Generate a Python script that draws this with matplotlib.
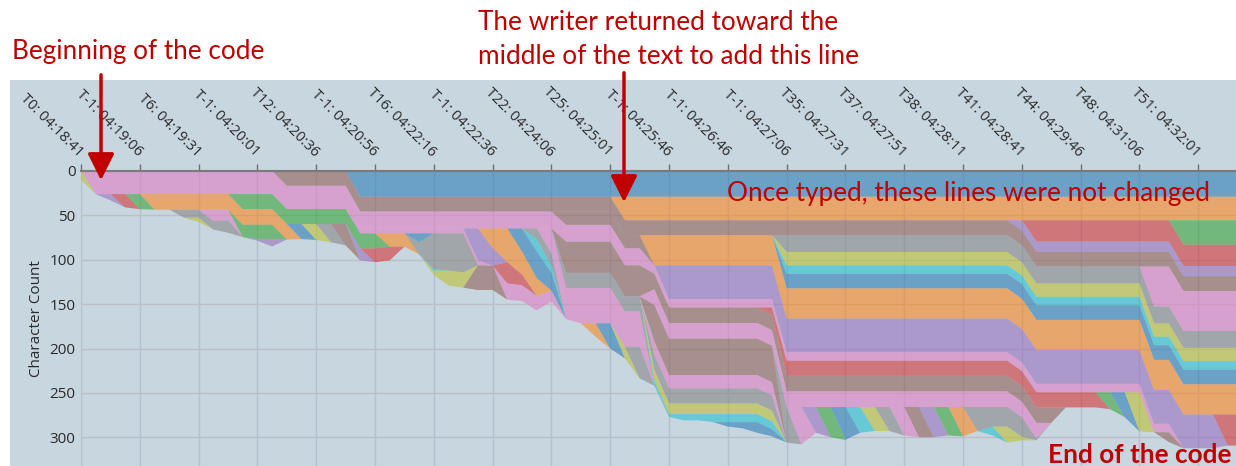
import matplotlib
matplotlib.use("Agg")
import matplotlib.pyplot as plt
from matplotlib.patches import Rectangle, FancyArrowPatch
import numpy as np

W, H = 1236, 466
N_STEPS = 80

tick_steps = [0, 4, 8, 12, 16, 20, 24, 28, 32, 36, 40, 44, 48, 52, 56, 60, 64, 68, 72, 76]
tick_labels = ["T0: 04:18:41", "T-1: 04:19:06", "T6: 04:19:31", "T-1: 04:20:01",
               "T12: 04:20:36", "T-1: 04:20:56", "T16: 04:22:16", "T-1: 04:22:36",
               "T22: 04:24:06", "T25: 04:25:01", "T-1: 04:25:46", "T-1: 04:26:46",
               "T-1: 04:27:06", "T35: 04:27:31", "T37: 04:27:51", "T38: 04:28:11",
               "T41: 04:28:41", "T44: 04:29:46", "T48: 04:31:06", "T51: 04:32:01"]
y_ticks = [0, 50, 100, 150, 200, 250, 300]

# Each band = one line of text; (step, character count) change points, held until next change.
blue_top = [(19, 29)]
orange_1 = [(37, 26.5)]
green_r = [(75, 27.5)]
red_r = [(65, 24)]
purple_r = [(64, 11.5)]
brown_1 = [(14, 16.7)]
pink_r = [(73, 45)]
gray_m = [(48, 19)]
olive_m = [(48, 15)]
cyan_m = [(48, 9.5)]
blue_m = [(48, 16.5)]
orange_2 = [(39, 34)]
red_new = [(78, 35)]
brown_x = [(33, 15), (39, 0)]
purple_b = [(40, 38), (78, 0)]
pink_1 = [(1, 26), (19, 19), (39, 9.5), (75, 0)]
brown_t74 = [(74, 11), (75, 0)]
olive_t72 = [(72, 44), (73, 0)]
blue_t71 = [(71, 28), (72, 0)]
green_t70 = [(70, 19), (71, 0)]
red_b = [(47, 8), (48, 17), (70, 0)]
brown_b = [(33, 35), (39, 17.5), (67, 0)]
pink_bb = [(39, 17.6), (66, 0)]
gray_t61 = [(61, 27), (62, 22), (65, 2), (66, 0)]
olive_t63 = [(63, 18), (64, 4), (65, 0)]
cyan_t62 = [(62, 10), (63, 0)]
orange_t60 = [(60, 33), (61, 0)]
green_t59 = [(59, 32), (60, 0)]
purple_t58 = [(58, 34), (59, 0)]
brown_t57 = [(57, 34), (58, 0)]
pink_t56 = [(56, 32), (57, 0)]
gray_t55 = [(55, 27), (56, 0)]
olive_t54 = [(54, 27), (55, 0)]
cyan_t53 = [(53, 29), (54, 0)]
blue_t52 = [(52, 37), (53, 0)]
green_t51 = [(51, 34), (52, 0)]
purple_t50 = [(50, 29), (51, 0)]
pink_t49 = [(49, 42), (50, 0)]
gray_t48 = [(48, 40), (49, 0)]
brown_big = [(39, 41), (48, 0)]
pink_c = [(39, 15), (48, 0)]
gray_x = [(39, 17), (48, 0)]
olive_x = [(39, 12), (48, 0)]
cyan_x = [(39, 6), (40, 3), (41, 7), (43, 9), (48, 0)]
blue_x = [(44, 5), (45, 7), (46, 12), (47, 8), (48, 0)]
gray_y = [(33, 17), (39, 0)]
pink_y = [(33, 35), (34, 39.8), (39, 0)]
gray_t38 = [(38, 35.5), (39, 0)]
olive_t37 = [(37, 13), (38, 0)]
blue_t36 = [(36, 28.5), (37, 0)]
orange_t35 = [(35, 15), (36, 0)]
pink_b2 = [(32, 28), (33, 0)]
gray_b = [(31, 12), (32, 14), (33, 0)]
cyan_b = [(31, 14), (32, 8), (33, 0)]
blue_b = [(30, 26), (31, 30), (32, 20), (33, 0)]
orange_b = [(28, 22), (29, 38), (30, 26), (31, 20), (32, 0)]
purple_a = [(27, 36), (28, 20), (29, 0)]
pink_m = [(19, 5.5), (28, 0)]
red_a = [(29, 24), (30, 12), (31, 0)]
pink_a = [(29, 18.3), (30, 17.7), (31, 16.3), (32, 12.3), (33, 0)]
blue_a = [(23, 10), (24, 0)]
gray_a = [(23, 13.6), (24, 40), (25, 42), (26, 44), (27, 0)]
cyan_a = [(24, 2), (25, 0)]
olive_a = [(24, 4.8), (25, 16.8), (26, 17.2), (27, 0)]
brown_a = [(27, 27.8), (28, 27.3), (29, 0)]
orange_c = [(21, 15), (23, 0)]
green_b = [(11, 17), (21, 0)]
red_t20 = [(20, 15.5), (22, 0)]
purple_t19 = [(19, 13.5), (20, 0)]
brown_t18 = [(18, 24), (19, 0)]
gray_t17 = [(17, 20.6), (18, 0)]
olive_t16 = [(16, 18), (17, 0)]
blue_t15 = [(15, 17), (16, 0)]
orange_a = [(5, 17.5), (15, 0)]
green_t4 = [(4, 17), (5, 0)]
red_t3 = [(3, 15), (4, 0)]
purple_t2 = [(2, 7), (3, 0)]
green_c = [(11, 14), (12, 16), (14, 0)]
purple_e = [(12, 2), (13, 8.5), (14, 0)]
pink_e = [(9, 13), (10, 12), (11, 0)]
gray_e = [(7, 9), (9, 9.5), (10, 14), (11, 0)]
olive_e = [(8, 5), (9, 0)]
olive_0 = [(0, 10), (1, 0)]

# stacking order (top of document first) with colour names
band_order = [
    (blue_top, "blue"), (orange_1, "orange"), (green_r, "green"), (red_r, "red"),
    (purple_r, "purple"), (brown_1, "brown"), (pink_r, "pink"), (gray_m, "gray"),
    (olive_m, "olive"), (cyan_m, "cyan"), (blue_m, "blue"), (orange_2, "orange"),
    (red_new, "red"), (brown_x, "brown"), (purple_b, "purple"), (pink_1, "pink"),
    (brown_t74, "brown"), (olive_t72, "olive"), (blue_t71, "blue"), (green_t70, "green"),
    (red_b, "red"), (brown_b, "brown"), (pink_bb, "pink"),
    (gray_t61, "gray"), (olive_t63, "olive"), (cyan_t62, "cyan"), (orange_t60, "orange"),
    (green_t59, "green"), (purple_t58, "purple"), (brown_t57, "brown"), (pink_t56, "pink"),
    (gray_t55, "gray"), (olive_t54, "olive"), (cyan_t53, "cyan"), (blue_t52, "blue"),
    (green_t51, "green"), (purple_t50, "purple"), (pink_t49, "pink"), (gray_t48, "gray"),
    (brown_big, "brown"), (pink_c, "pink"), (gray_x, "gray"), (olive_x, "olive"),
    (cyan_x, "cyan"), (blue_x, "blue"), (gray_y, "gray"), (pink_y, "pink"),
    (gray_t38, "gray"), (olive_t37, "olive"), (blue_t36, "blue"), (orange_t35, "orange"),
    (pink_b2, "pink"), (gray_b, "gray"), (cyan_b, "cyan"), (blue_b, "blue"),
    (orange_b, "orange"), (purple_a, "purple"), (pink_m, "pink"), (red_a, "red"),
    (pink_a, "pink"), (blue_a, "blue"), (gray_a, "gray"), (cyan_a, "cyan"),
    (olive_a, "olive"), (brown_a, "brown"),
    (orange_c, "orange"), (green_b, "green"), (red_t20, "red"), (purple_t19, "purple"),
    (brown_t18, "brown"), (gray_t17, "gray"), (olive_t16, "olive"), (blue_t15, "blue"),
    (orange_a, "orange"), (green_t4, "green"), (red_t3, "red"), (purple_t2, "purple"),
    (green_c, "green"), (purple_e, "purple"), (pink_e, "pink"), (gray_e, "gray"),
    (olive_e, "olive"), (olive_0, "olive"),
]

palette = {"blue": "#1f77b4", "orange": "#ff7f0e", "green": "#2ca02c", "red": "#d62728",
           "purple": "#9467bd", "brown": "#8c564b", "pink": "#e377c2", "gray": "#7f7f7f",
           "olive": "#bcbd22", "cyan": "#17becf"}


def expand(keys):
    out = np.zeros(N_STEPS)
    for step, h in keys:
        out[step:] = h
    return out


BG = "#c8d6e0"
DARK_RED = "#c00000"
AXIS_FONT = ["Open Sans", "DejaVu Sans"]

fig = plt.figure(figsize=(W / 100, H / 100), dpi=100)
fig.patch.set_facecolor("white")
fig.add_artist(Rectangle((10 / W, 0), 1 - 10 / W, (H - 80) / H, transform=fig.transFigure,
                         facecolor=BG, edgecolor="none", zorder=-10))

ax_left = 81 / W
ax_top = 1 - 171 / H
ax = fig.add_axes([ax_left, 0, 1 - ax_left, ax_top])
ax.set_facecolor(BG)

x = np.arange(N_STEPS)
ys = [expand(k) for k, _ in band_order]
cols = [palette[c] for _, c in band_order]
ax.stackplot(x, *ys, colors=cols, alpha=0.55, linewidth=0)

ax.set_xlim(0, (W - 81) / 14.7)
ax.set_ylim((H - 171) / 0.888, 0)

ax.xaxis.tick_top()
ax.set_xticks(tick_steps)
ax.set_xticklabels(tick_labels, rotation=-45, ha="right", va="center",
                   rotation_mode="anchor", fontsize=10.5, color="#2a2a2a", family=AXIS_FONT)
ax.tick_params(axis="x", which="major", length=5, width=1, color="#6f6f6f", pad=7,
               top=True, bottom=False)
ax.set_yticks(y_ticks)
ax.set_yticklabels([str(v) for v in y_ticks], fontsize=11, color="#2a2a2a", family=AXIS_FONT)
ax.tick_params(axis="y", length=0, pad=4)
ax.set_ylabel("Character Count", fontsize=11, color="#2a2a2a", labelpad=4, family=AXIS_FONT)

ax.set_axisbelow(True)
ax.xaxis.grid(True, color="#b3c1cc", lw=1)
ax.yaxis.grid(True, color="#bcc0c4", lw=1)
for s in ["left", "right", "bottom"]:
    ax.spines[s].set_visible(False)
ax.spines["top"].set_color("#7a7a7a")
ax.spines["top"].set_linewidth(1.5)


def fx(px):
    return px / W


def fy(py):
    return 1 - py / H


afont = dict(family=["Lato", "DejaVu Sans"], color=DARK_RED)
FS = 18.8
fig.text(fx(12), fy(52), "Beginning of the code", fontsize=FS, va="center", ha="left", **afont)
fig.text(fx(478), fy(22), "The writer returned toward the", fontsize=FS, va="center", ha="left", **afont)
fig.text(fx(478), fy(57), "middle of the text to add this line", fontsize=FS, va="center", ha="left", **afont)
fig.text(fx(727), fy(193), "Once typed, these lines were not changed", fontsize=FS, va="center",
         ha="left", zorder=20, **afont)
fig.text(fx(1232), fy(455), "End of the code", fontsize=FS, fontweight="bold", va="center",
         ha="right", zorder=20, **afont)

for (x0, y0, y1) in [(101, 72, 183), (624, 70, 205)]:
    arr = FancyArrowPatch((fx(x0), fy(y0)), (fx(x0), fy(y1)), transform=fig.transFigure,
                          arrowstyle="-|>,head_length=0.9,head_width=0.45", mutation_scale=18,
                          color=DARK_RED, lw=2.5, zorder=30)
    fig.add_artist(arr)

fig.savefig("out.png", dpi=100)
